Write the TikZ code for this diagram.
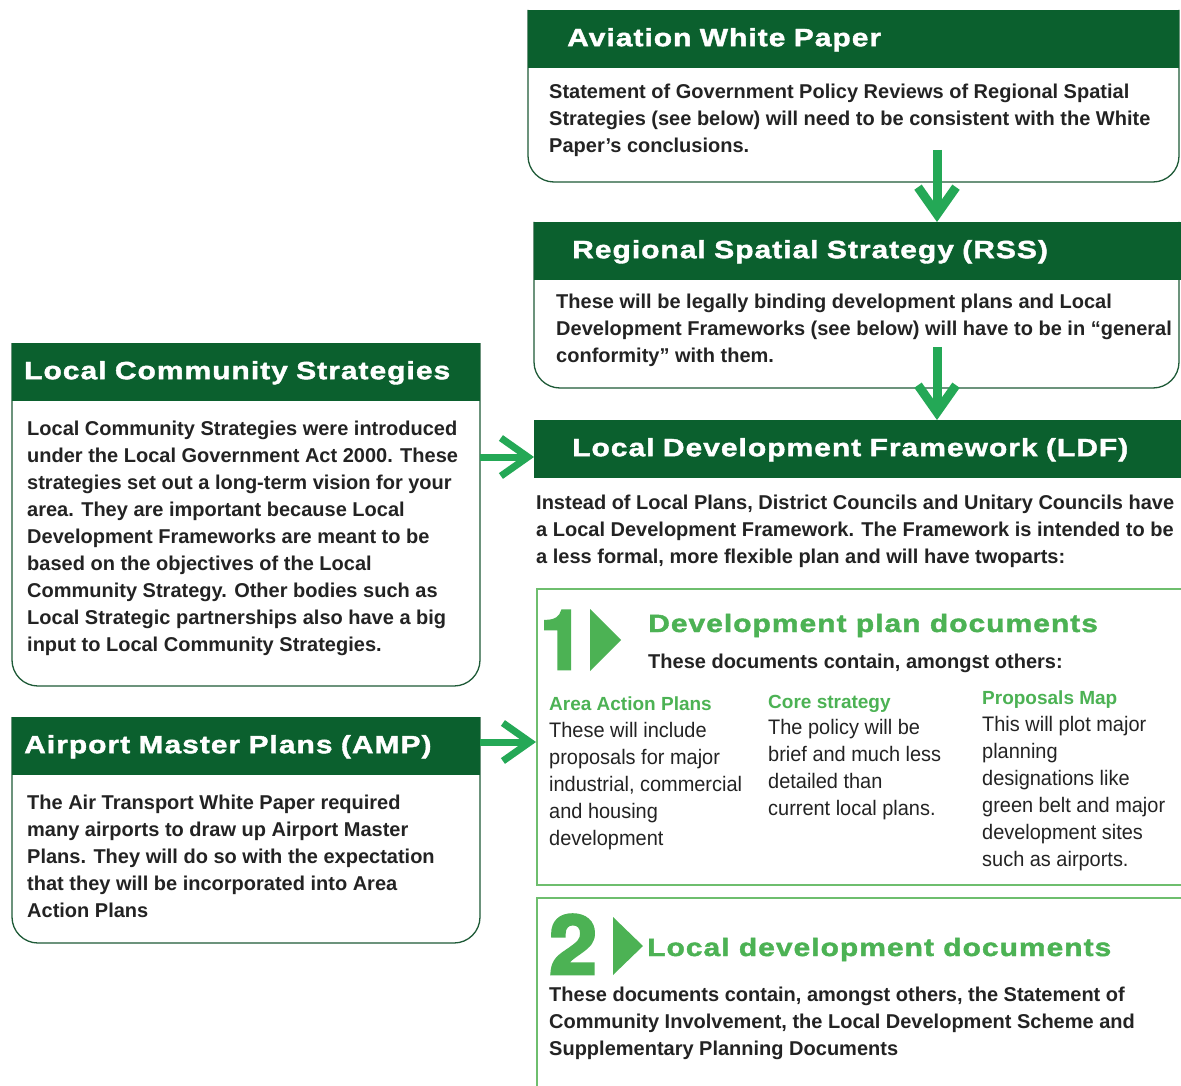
\documentclass[tikz,border=0pt]{standalone}
\usepackage{fontspec}
\setmainfont{Liberation Sans}
\newfontfamily\headFont[FakeStretch=1.2,LetterSpace=4,FakeBold=1.6]{Liberation Sans}
\newfontfamily\numFont[FakeStretch=1.05,FakeBold=3.5]{TeX Gyre Heros}
\newfontfamily\oneFont[FakeStretch=0.95,FakeBold=3.5]{TeX Gyre Heros}
\newfontfamily\narrowFont[FakeStretch=0.95]{Liberation Sans}
\usetikzlibrary{arrows.meta}

\begin{document}
\begin{tikzpicture}[x=1pt,y=-1pt,
  headBar/.style={fill=headColor,text=white,anchor=north west,minimum height=58pt,inner ysep=0pt,align=left,text height=18pt,text depth=4pt,font=\headFont\bfseries\fontsize{25}{30}\selectfont},
  bodyText/.style={anchor=base west,inner sep=0pt,align=left,text=textColor,font=\bfseries\fontsize{20}{27}\selectfont},
  colHead/.style={anchor=base west,inner sep=0pt,text=numColor,font=\bfseries\fontsize{19}{24}\selectfont},
  colText/.style={anchor=base west,inner sep=0pt,align=left,text=textColor,font=\narrowFont\fontsize{21}{27}\selectfont},
  greenTitle/.style={anchor=base west,inner sep=0pt,text=numColor,font=\headFont\bfseries\fontsize{25}{30}\selectfont},
  bigNum/.style={anchor=base west,inner sep=0pt,text=numColor,font=\numFont\bfseries\fontsize{82}{90}\selectfont},
  boxLine/.style={draw=lineColor,line width=1.3pt,rounded corners=26pt},
  docBox/.style={draw=docColor,line width=2pt,anchor=north west,inner sep=0pt},
  flow/.style={draw=arrowColor,line width=9pt,-{Straight Barb[length=27pt,width=38pt]}}]
\definecolor{headColor}{RGB}{11,96,46}
\definecolor{lineColor}{RGB}{30,90,55}
\definecolor{textColor}{RGB}{35,35,35}
\definecolor{numColor}{RGB}{76,178,84}
\definecolor{docColor}{RGB}{110,190,110}
\definecolor{arrowColor}{RGB}{36,168,86}
\path[use as bounding box,fill=white] (0,0) rectangle (1181,1086);
\begin{scope}
\path[clip] (0,0) rectangle (1181,1086);

\draw[boxLine] (528,10) -- (528,182) -- (1179,182) -- (1179,10);
\node[headBar,minimum width=651pt,text width=573pt,inner xsep=39pt] (awp) at (528,10) {Aviation White Paper};
\node[bodyText] (awpText) at (549,153) {Statement of Government Policy Reviews of Regional Spatial\\Strategies (see below) will need to be consistent with the White\\Paper's conclusions.};

\draw[boxLine] (534,222) -- (534,388) -- (1179,388) -- (1179,222);
\node[headBar,minimum width=647pt,text width=571pt,inner xsep=38pt] (rss) at (534,222) {Regional Spatial Strategy (RSS)};
\node[bodyText] (rssText) at (556,362) {These will be legally binding development plans and Local\\Development Frameworks (see below) will have to be in “general\\conformity” with them.};

\node[headBar,minimum width=647pt,text width=571pt,inner xsep=38pt] (ldf) at (534,420) {Local Development Framework (LDF)};
\node[bodyText] (ldfText) at (536,563) {Instead of Local Plans, District Councils and Unitary Councils have\\a Local Development Framework. The Framework is intended to be\\a less formal, more flexible plan and will have twoparts:};

\draw[boxLine] (12,343) -- (12,686) -- (480,686) -- (480,343);
\node[headBar,minimum width=468pt,text width=444pt,inner xsep=12pt] (lcs) at (12,343) {Local Community Strategies};
\node[bodyText] (lcsText) at (27,651) {Local Community Strategies were introduced\\under the Local Government Act 2000. These\\strategies set out a long-term vision for your\\area. They are important because Local\\Development Frameworks are meant to be\\based on the objectives of the Local\\Community Strategy. Other bodies such as\\Local Strategic partnerships also have a big\\input to Local Community Strategies.};

\draw[boxLine] (12,717) -- (12,943) -- (480,943) -- (480,717);
\node[headBar,minimum width=468pt,text width=444pt,inner xsep=12pt] (amp) at (12,717) {Airport Master Plans (AMP)};
\node[bodyText] (ampText) at (27,917) {The Air Transport White Paper required\\many airports to draw up Airport Master\\Plans. They will do so with the expectation\\that they will be incorporated into Area\\Action Plans};

\node[docBox,minimum width=660pt,minimum height=296pt] (dpd) at (536,588) {};
\node[bigNum,font=\oneFont\bfseries\fontsize{82}{90}\selectfont] (numOne) at (540,669) {1};
\fill[numColor] (590,609) -- (621,640) -- (590,671) -- cycle;
\node[greenTitle] (dpdTitle) at (648,632) {Development plan documents};
\node[bodyText] (dpdText) at (648,668) {These documents contain, amongst others:};
\node[colHead] (aapHead) at (549,710) {Area Action Plans};
\node[colText] (aapText) at (549,845) {These will include\\proposals for major\\industrial, commercial\\and housing\\development};
\node[colHead] (coreHead) at (768,708) {Core strategy};
\node[colText] (coreText) at (768,815) {The policy will be\\brief and much less\\detailed than\\current local plans.};
\node[colHead] (mapHead) at (982,704) {Proposals Map};
\node[colText] (mapText) at (982,866) {This will plot major\\planning\\designations like\\green belt and major\\development sites\\such as airports.};

\node[docBox,minimum width=660pt,minimum height=220pt] (dld) at (536,897) {};
\node[bigNum] (numTwo) at (549,974) {2};
\fill[numColor] (613,917) -- (643,946) -- (613,975) -- cycle;
\node[greenTitle] (dldTitle) at (647,956) {Local development documents};
\node[bodyText] (dldText) at (549,1055) {These documents contain, amongst others, the Statement of\\Community Involvement, the Local Development Scheme and\\Supplementary Planning Documents};

\coordinate (awpFoot) at (937,150);
\coordinate (rssFoot) at (937,347);
\coordinate (lcsSide) at (480,457);
\coordinate (ampSide) at (480,742);
\draw[flow] (awpFoot) -- (awpFoot |- rss.north);
\draw[flow] (rssFoot) -- (rssFoot |- ldf.north);
\draw[flow,line width=7pt] (lcsSide) -- (lcsSide -| ldf.west);
\draw[flow,line width=7pt] (ampSide) -- (ampSide -| dpd.west);
\end{scope}
\end{tikzpicture}
\end{document}
